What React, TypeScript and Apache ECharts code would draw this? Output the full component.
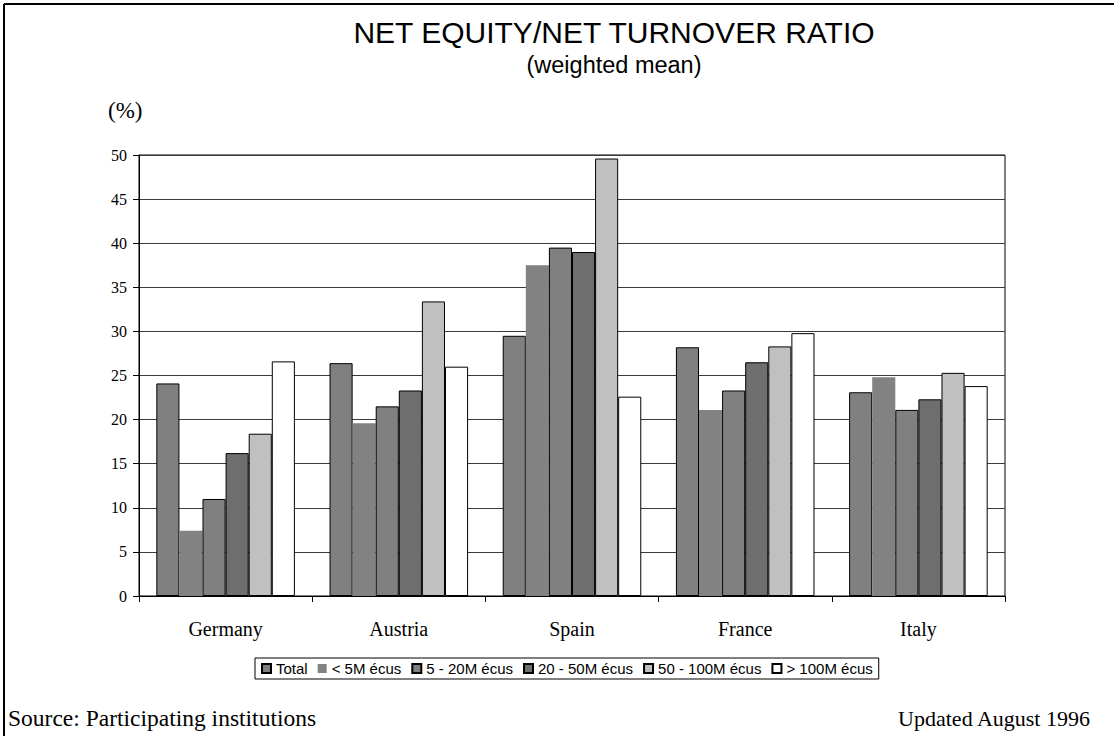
import React, { useEffect, useRef } from "react";
import * as echarts from "echarts";

const categories = ["Germany", "Austria", "Spain", "France", "Italy"];
const seriesNames = ["Total", "< 5M écus", "5 - 20M écus", "20 - 50M écus", "50 - 100M écus", "> 100M écus"];
const totalValues = [24.1, 26.4, 29.5, 28.2, 23.1];
const lt5Values = [7.4, 19.6, 37.5, 21.1, 24.8];
const m5to20Values = [11.0, 21.5, 39.5, 23.3, 21.1];
const m20to50Values = [16.2, 23.3, 39.0, 26.5, 22.3];
const m50to100Values = [18.4, 33.4, 49.6, 28.3, 25.3];
const gt100Values = [26.6, 26.0, 22.6, 29.8, 23.8];
const yTicks = { min: 0, max: 50, interval: 5 };

const seriesValues = [totalValues, lt5Values, m5to20Values, m20to50Values, m50to100Values, gt100Values];
const seriesColors = ["#808080", "#828282", "#808080", "#6e6e6e", "#c0c0c0", "#ffffff"];
const seriesBorders = [1, 0, 1, 1, 1, 1];

const SERIF = "'Liberation Serif', 'Times New Roman', serif";
const SANS = "'Liberation Sans', Arial, sans-serif";

export default function App() {
  const ref = useRef<HTMLDivElement>(null);
  useEffect(() => {
    if (!ref.current) return;
    const chart = echarts.init(ref.current, null, { renderer: "svg" });
    chart.setOption({
      animation: false,
      backgroundColor: "#ffffff",
      grid: {
        left: 139,
        right: 109,
        top: 155,
        bottom: 140,
        show: true,
        borderColor: "#000",
        borderWidth: 1,
        containLabel: false,
      },
      legend: {
        data: seriesNames,
        left: 255,
        top: 658,
        orient: "horizontal",
        borderColor: "#000",
        borderWidth: 1,
        padding: [3, 6, 3, 6],
        itemWidth: 9,
        itemHeight: 9,
        itemGap: 10,
        textStyle: { fontFamily: SANS, fontSize: 15, color: "#000" },
        icon: "rect",
      },
      xAxis: {
        type: "category",
        data: categories,
        axisLine: { show: true, lineStyle: { color: "#000", width: 1 } },
        axisTick: { show: true, length: 6, lineStyle: { color: "#000" } },
        axisLabel: { fontFamily: SERIF, fontSize: 20, color: "#000", margin: 23 },
        splitLine: { show: false },
      },
      yAxis: {
        type: "value",
        min: yTicks.min,
        max: yTicks.max,
        interval: yTicks.interval,
        axisLine: { show: true, lineStyle: { color: "#000", width: 1 } },
        axisTick: { show: true, length: 6, lineStyle: { color: "#000" } },
        axisLabel: { fontFamily: SERIF, fontSize: 16, color: "#000", margin: 12 },
        splitLine: { show: true, lineStyle: { color: "#3a3a3a", width: 1 } },
      },
      series: seriesNames.map((name, i) => ({
        name,
        type: "bar",
        data: seriesValues[i],
        barGap: "0%",
        barCategoryGap: "20%",
        itemStyle: {
          color: seriesColors[i],
          borderColor: "#000",
          borderWidth: seriesBorders[i],
        },
      })),
      graphic: [
        { type: "line", shape: { x1: 4, y1: 4, x2: 1114, y2: 4 }, style: { stroke: "#000", lineWidth: 2 } },
        { type: "line", shape: { x1: 4, y1: 4, x2: 4, y2: 736 }, style: { stroke: "#000", lineWidth: 2 } },
        {
          type: "text",
          style: { text: "NET EQUITY/NET TURNOVER RATIO", x: 614, y: 32, align: "center", verticalAlign: "middle", fontFamily: SANS, fontSize: 30, fill: "#000" },
        },
        {
          type: "text",
          style: { text: "(weighted mean)", x: 614, y: 65, align: "center", verticalAlign: "middle", fontFamily: SANS, fontSize: 23.5, fill: "#000" },
        },
        {
          type: "text",
          style: { text: "(%)", x: 108, y: 110, align: "left", verticalAlign: "middle", fontFamily: SERIF, fontSize: 23, fill: "#000" },
        },
        {
          type: "text",
          style: { text: "Source: Participating institutions", x: 8, y: 718, align: "left", verticalAlign: "middle", fontFamily: SERIF, fontSize: 23.5, fill: "#000" },
        },
        {
          type: "text",
          style: { text: "Updated August 1996", x: 1090, y: 718, align: "right", verticalAlign: "middle", fontFamily: SERIF, fontSize: 22, fill: "#000" },
        },
      ],
    });
    return () => chart.dispose();
  }, []);
  return <div ref={ref} style={{ position: "absolute", left: 0, top: 0, width: 1114, height: 736 }} />;
}
